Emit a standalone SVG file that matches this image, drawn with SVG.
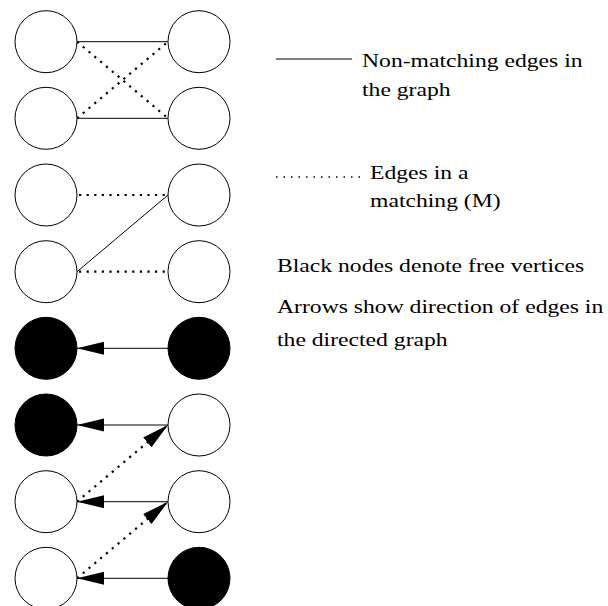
<svg xmlns="http://www.w3.org/2000/svg" width="608" height="606" viewBox="0 0 608 606">
<style>
  .node { fill: #fff; stroke: #000; stroke-width: 1; }
  .free { fill: #000; stroke: #000; stroke-width: 1; }
  .solid { stroke: #000; stroke-width: 1; fill: none; }
  .dot { stroke: #000; stroke-width: 2.2; stroke-dasharray: 2.2 5.4; fill: none; }
  .ldot { stroke: #000; stroke-width: 1.5; stroke-dasharray: 1.5 6; fill: none; }
  .lbl { font-family: "Liberation Serif", "Times New Roman", serif; font-size: 19px; fill: #000; }
</style>
<defs>
  <marker id="ah" markerUnits="userSpaceOnUse" markerWidth="28" markerHeight="14" refX="27" refY="6.5" orient="auto">
    <path d="M0,0 L27,6.5 L0,13 z" fill="#000"/>
  </marker>
</defs>
<g id="connectors">
  <line class="solid" x1="77" y1="41.7" x2="168" y2="41.7"/>
  <line class="solid" x1="77" y1="118.3" x2="168" y2="118.3"/>
  <line class="dot" x1="77" y1="41.7" x2="168" y2="118.3"/>
  <line class="dot" x1="77" y1="118.3" x2="168" y2="41.7"/>
  <line class="dot" x1="79" y1="195" x2="168" y2="195"/>
  <line class="solid" x1="168" y1="195" x2="77" y2="271.7"/>
  <line class="dot" x1="79" y1="271.7" x2="168" y2="271.7"/>
  <line class="solid" x1="168" y1="348.3" x2="77" y2="348.3" marker-end="url(#ah)"/>
  <line class="solid" x1="168" y1="425" x2="77" y2="425" marker-end="url(#ah)"/>
  <line class="dot" x1="77" y1="501.7" x2="168" y2="425" marker-end="url(#ah)"/>
  <line class="solid" x1="168" y1="501.7" x2="77" y2="501.7" marker-end="url(#ah)"/>
  <line class="dot" x1="77" y1="578.3" x2="168" y2="501.7" marker-end="url(#ah)"/>
  <line class="solid" x1="168" y1="578.3" x2="77" y2="578.3" marker-end="url(#ah)"/>
</g>
<g id="n1l"><circle class="node" cx="46" cy="41.7" r="31"/></g>
<g id="n1r"><circle class="node" cx="199" cy="41.7" r="31"/></g>
<g id="n2l"><circle class="node" cx="46" cy="118.3" r="31"/></g>
<g id="n2r"><circle class="node" cx="199" cy="118.3" r="31"/></g>
<g id="n3l"><circle class="node" cx="46" cy="195" r="31"/></g>
<g id="n3r"><circle class="node" cx="199" cy="195" r="31"/></g>
<g id="n4l"><circle class="node" cx="46" cy="271.7" r="31"/></g>
<g id="n4r"><circle class="node" cx="199" cy="271.7" r="31"/></g>
<g id="n5l"><circle class="free" cx="46" cy="348.3" r="31"/></g>
<g id="n5r"><circle class="free" cx="199" cy="348.3" r="31"/></g>
<g id="n6l"><circle class="free" cx="46" cy="425" r="31"/></g>
<g id="n6r"><circle class="node" cx="199" cy="425" r="31"/></g>
<g id="n7l"><circle class="node" cx="46" cy="501.7" r="31"/></g>
<g id="n7r"><circle class="node" cx="199" cy="501.7" r="31"/></g>
<g id="n8l"><circle class="node" cx="46" cy="578.3" r="31"/></g>
<g id="n8r"><circle class="free" cx="199" cy="578.3" r="31"/></g>
<g id="legend">
  <line class="solid" x1="276" y1="59" x2="352" y2="59"/>
  <text class="lbl" transform="translate(362,67) scale(1.245,1)">Non-matching edges in</text>
  <text class="lbl" transform="translate(362,96) scale(1.245,1)">the graph</text>
  <line class="ldot" x1="276" y1="177" x2="366" y2="177"/>
  <text class="lbl" transform="translate(370,179) scale(1.245,1)">Edges in a</text>
  <text class="lbl" transform="translate(370,207) scale(1.245,1)">matching (M)</text>
  <text class="lbl" transform="translate(277,272) scale(1.245,1)">Black nodes denote free vertices</text>
  <text class="lbl" transform="translate(277,313) scale(1.245,1)">Arrows show direction of edges in</text>
  <text class="lbl" transform="translate(277,346) scale(1.245,1)">the directed graph</text>
</g>
</svg>
